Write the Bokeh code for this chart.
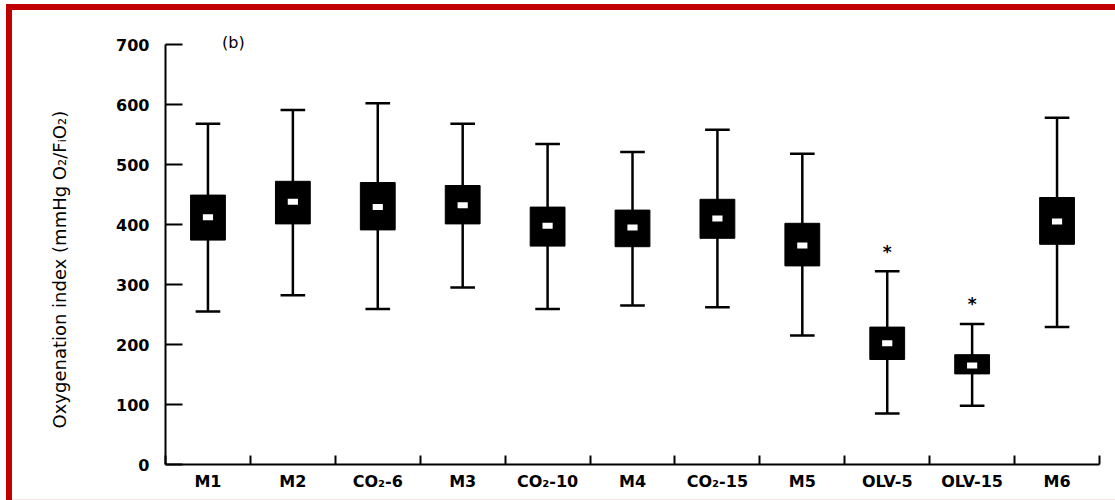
from bokeh.plotting import figure
from bokeh.models import Range1d, FixedTicker, ColumnDataSource, Title
from bokeh.core.properties import value
from bokeh.embed import file_html
from bokeh.resources import INLINE

# ---- data ----
categories = ["M1", "M2", "CO₂-6", "M3", "CO₂-10", "M4", "CO₂-15", "M5", "OLV-5", "OLV-15", "M6"]
whisker_low = [255, 282, 259, 295, 259, 265, 262, 215, 85, 98, 229]
q1 = [374, 401, 391, 401, 364, 363, 377, 331, 175, 151, 367]
median = [412, 438, 429, 432, 398, 395, 410, 365, 202, 165, 405]
q3 = [449, 472, 470, 465, 429, 424, 442, 402, 229, 183, 445]
whisker_high = [568, 591, 602, 568, 534, 521, 558, 518, 322, 234, 578]
sig_categories = ["OLV-5", "OLV-15"]
sig_y = [359, 273]
y_ticks = [0, 100, 200, 300, 400, 500, 600, 700]
y_label = "Oxygenation index (mmHg O₂/FᵢO₂)"
panel_label = "(b)"

FONT = "DejaVu Sans"
centers = [i + 0.5 for i in range(len(categories))]
cap_half = 0.145

src = ColumnDataSource(dict(
    x=centers, low=whisker_low, q1=q1, med=median, q3=q3, high=whisker_high,
    cl=[c - cap_half for c in centers], cr=[c + cap_half for c in centers],
))

p = figure(width=1115, height=500, output_backend="svg", toolbar_location=None,
           x_range=Range1d(0, len(categories)), y_range=Range1d(0, 715),
           min_border_left=165, min_border_right=16, min_border_top=35, min_border_bottom=36)
p.outline_line_color = None
p.grid.grid_line_color = None
p.background_fill_color = "white"
p.border_fill_color = None
red = "#c00000"
p.styles = {
    "background": (
        f"linear-gradient({red},{red}) 6px 4px / 1109px 6px no-repeat, "
        f"linear-gradient({red},{red}) 6px 4px / 6px 496px no-repeat, "
        "linear-gradient(#f3e4e8,#f3e4e8) 12px 499px / 1103px 1px no-repeat, "
        "white"
    )
}

# whiskers and caps
p.segment(x0="x", x1="x", y0="low", y1="high", source=src, line_color="black", line_width=2.5)
p.segment(x0="cl", x1="cr", y0="low", y1="low", source=src, line_color="black", line_width=2.5)
p.segment(x0="cl", x1="cr", y0="high", y1="high", source=src, line_color="black", line_width=2.5)
# boxes
p.vbar(x="x", bottom="q1", top="q3", width=0.41, source=src, fill_color="black", line_color="black")
# median markers
p.rect(x="x", y="med", width=0.12, height=6, height_units="screen", source=src,
       fill_color="white", line_color=None)

# significance asterisks
sig_x = [centers[categories.index(c)] for c in sig_categories]
p.text(x=sig_x, y=sig_y, text=["*"] * len(sig_x), text_align="center", text_baseline="middle",
       text_font=value(FONT), text_font_style="bold", text_font_size="17px", text_color="black", y_offset=3)

# panel label
p.text(x=[0.8], y=[704], text=[panel_label], text_align="center", text_baseline="middle",
       text_font=value(FONT), text_font_size="16px", text_color="black")

# x axis
xa = p.xaxis[0]
xa.ticker = FixedTicker(ticks=centers, minor_ticks=list(range(len(categories) + 1)))
xa.major_label_overrides = {c: lab for c, lab in zip(centers, categories)}
xa.major_tick_in = 0
xa.major_tick_out = 0
xa.minor_tick_in = 9
xa.minor_tick_out = 0
xa.minor_tick_line_width = 2
xa.axis_line_width = 2
xa.major_label_standoff = 7
xa.major_label_text_font = FONT
xa.major_label_text_font_style = "bold"
xa.major_label_text_font_size = "16px"
xa.major_label_text_color = "black"

# y axis
ya = p.yaxis[0]
ya.ticker = FixedTicker(ticks=y_ticks, minor_ticks=[])
ya.bounds = (0, 700)
ya.major_tick_in = 17
ya.major_tick_out = 0
ya.major_tick_line_width = 2
ya.axis_line_width = 2
ya.major_label_standoff = 16
ya.major_label_text_font = FONT
ya.major_label_text_font_style = "bold"
ya.major_label_text_font_size = "16px"
ya.major_label_text_color = "black"

# y axis title, placed as a side title so it can be shifted along the axis
p.add_layout(Title(text=y_label, align="left", offset=36, standoff=88,
                   text_font=FONT, text_font_style="normal", text_font_size="18px",
                   text_color="black"), "left")

open("out.html", "w").write(file_html(p, INLINE))
